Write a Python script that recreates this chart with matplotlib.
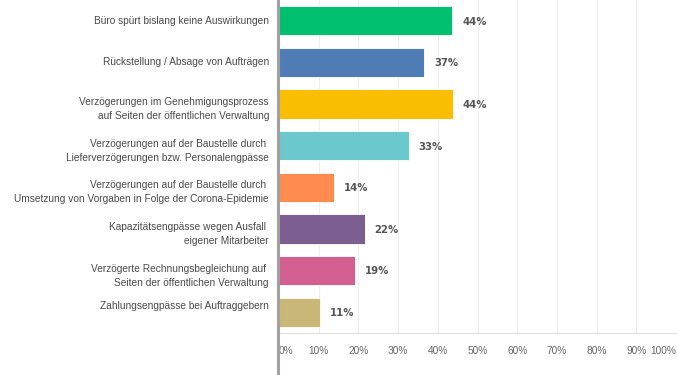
import matplotlib
matplotlib.use("Agg")
import matplotlib.pyplot as plt
from matplotlib.lines import Line2D
from matplotlib.transforms import ScaledTranslation

plt.rcParams['font.family'] = ['Liberation Sans', 'DejaVu Sans']

categories = [
    "Büro spürt bislang keine Auswirkungen",
    "Rückstellung / Absage von Aufträgen",
    "Verzögerungen im Genehmigungsprozess\nauf Seiten der öffentlichen Verwaltung",
    "Verzögerungen auf der Baustelle durch \nLieferverzögerungen bzw. Personalengpässe",
    "Verzögerungen auf der Baustelle durch \nUmsetzung von Vorgaben in Folge der Corona-Epidemie",
    "Kapazitätsengpässe wegen Ausfall \neigener Mitarbeiter",
    "Verzögerte Rechnungsbegleichung auf \nSeiten der öffentlichen Verwaltung",
    "Zahlungsengpässe bei Auftraggebern",
]
values = [43.6, 36.6, 43.8, 32.7, 13.9, 21.6, 19.1, 10.4]
value_labels = ["44%", "37%", "44%", "33%", "14%", "22%", "19%", "11%"]
colors = ["#00BF6F", "#507CB6", "#F9BE00", "#6BC8CD", "#FF8B4F", "#7D5E90", "#D25F90", "#C9B778"]
xticks = [0, 10, 20, 30, 40, 50, 60, 70, 80, 90, 100]
xtick_labels = [f"{t}%" for t in xticks]

fig = plt.figure(figsize=(6.77, 3.75), dpi=100)
ax = fig.add_axes([279/677, 42/375, 397/677, 333/375])

y = list(range(len(categories)))
ax.barh(y, values, height=0.7, color=colors, edgecolor="white", linewidth=0.6, zorder=3)
for yi, v, lab in zip(y, values, value_labels):
    ax.text(v + 2.5, yi + 0.02, lab, va="center", ha="left", fontsize=7.3,
            fontweight="bold", color="#545454", family=["DejaVu Sans"])

ax.set_xlim(0, 100)
ax.set_ylim(len(categories) - 0.5, -0.5)
ax.set_yticks(y)
ax.set_yticklabels([])
ax.tick_params(axis="y", length=0)

# category labels, right-aligned left of the axis
for i, (yi, cat) in enumerate(zip(y, categories)):
    if "\n" in cat:
        dy = -0.05   # inches, multi-line labels sit slightly low
    elif i == len(categories) - 1:
        dy = 0.06
    else:
        dy = 0.0
    tr = ax.get_yaxis_transform() + ScaledTranslation(-0.10, dy, fig.dpi_scale_trans)
    ax.text(0, yi, cat, transform=tr, ha="right", va="center", fontsize=7.3,
            color="#4a4a4a", linespacing=1.5, multialignment="right")

ax.set_xticks(xticks)
ax.set_xticklabels(xtick_labels, fontsize=7.3, color="#666666")
ax.tick_params(axis="x", length=0, pad=9)
tl = ax.get_xticklabels()
tl[0].set_ha("left")
tl[-1].set_ha("right")
ax.grid(axis="x", color="#eeeeee", linewidth=0.8, zorder=0)
for s in ["top", "right", "left"]:
    ax.spines[s].set_visible(False)
ax.spines["bottom"].set_color("#dddddd")
ax.spines["bottom"].set_linewidth(0.8)

fig.add_artist(Line2D([278/677, 278/677], [0, 1], color="#a0a0a0", linewidth=2.2, transform=fig.transFigure))

fig.savefig("out.png", dpi=100, facecolor="white")
